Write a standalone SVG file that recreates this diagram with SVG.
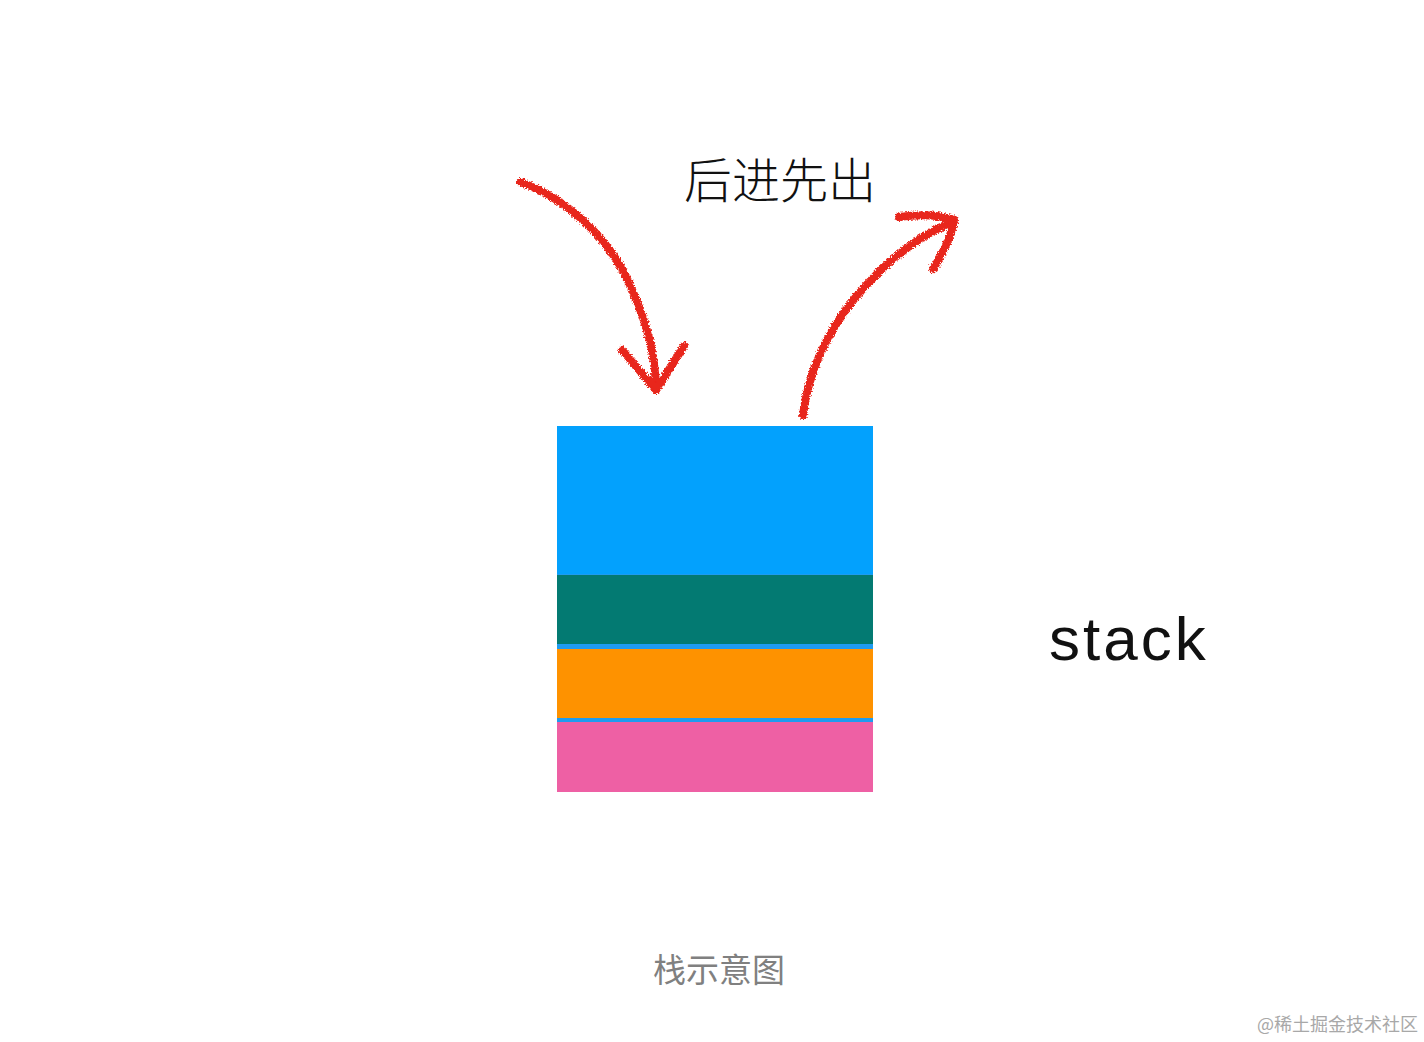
<svg xmlns="http://www.w3.org/2000/svg" width="1424" height="1042" viewBox="0 0 1424 1042">
<defs>
<style>
.arrow{fill:none;stroke:#e8261c;stroke-width:8;stroke-linecap:round;stroke-linejoin:round;filter:url(#rough)}
.cjk{font-family:"Noto Sans CJK SC","Noto Sans",sans-serif}
</style>
<filter id="rough" x="-10%" y="-10%" width="120%" height="120%">
<feTurbulence type="fractalNoise" baseFrequency="0.7" numOctaves="2" seed="3" result="n"/>
<feDisplacementMap in="SourceGraphic" in2="n" scale="5" xChannelSelector="R" yChannelSelector="G"/>
</filter>
</defs>
<rect width="1424" height="1042" fill="#ffffff"/>
<g id="stack">
<rect x="557" y="426" width="316" height="366" fill="#1e9bf0"/>
<rect x="557" y="426" width="316" height="148" fill="#03a1fd"/>
<rect x="557" y="575" width="316" height="69" fill="#037a72"/>
<rect x="557" y="649" width="316" height="69" fill="#fe9200"/>
<rect x="557" y="722" width="316" height="70" fill="#ee60a4"/>
</g>
<g id="connectors">
<path class="arrow" d="M520,182 C570,200 610,240 630,285 C648,325 655,355 656,388"/>
<path class="arrow" d="M622,350 L656,390 L684,346"/>
<path class="arrow" d="M803,415 C808,375 825,335 855,298 C885,262 920,235 954,221"/>
<path class="arrow" d="M899,217 C920,214 940,215 955,220 C950,238 942,255 933,269"/>
</g>
<g id="title">
<text x="684" y="198" class="cjk" font-size="48" font-weight="300" fill="#111">后进先出</text>
</g>
<g id="label">
<text x="1049" y="660" font-family="'Liberation Sans',Arial,sans-serif" font-size="62" letter-spacing="3" fill="#111">stack</text>
</g>
<g id="caption">
<text x="719" y="982" class="cjk" font-size="33" text-anchor="middle" fill="#808080">栈示意图</text>
</g>
<g id="watermark">
<text x="1418" y="1031" class="cjk" font-size="18" text-anchor="end" fill="#a8a8a8">@稀土掘金技术社区</text>
</g>
</svg>
